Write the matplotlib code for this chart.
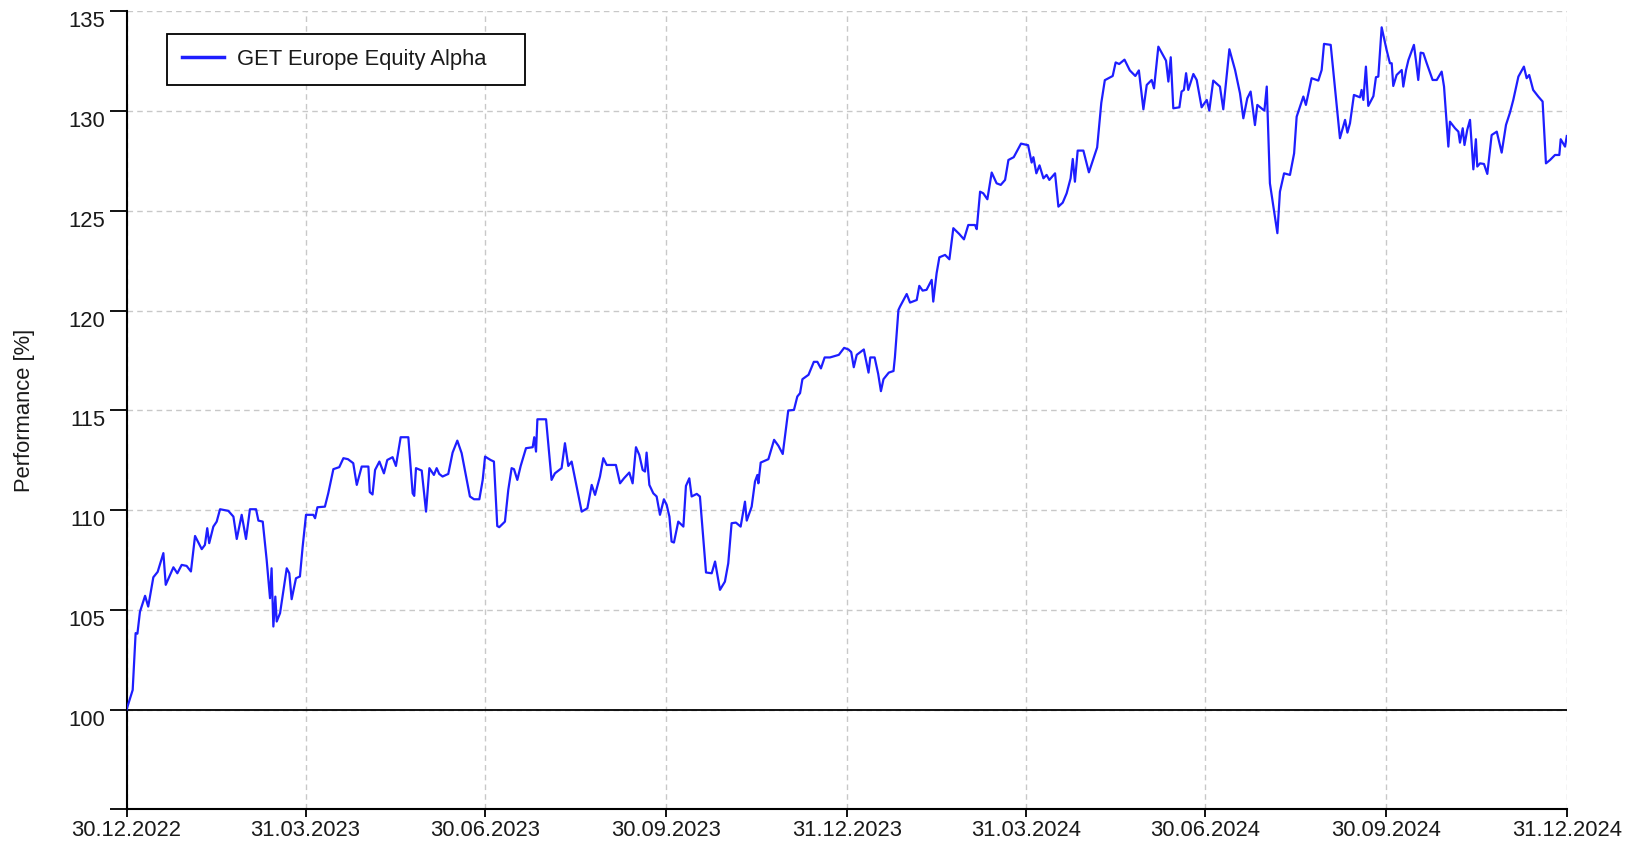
import matplotlib
matplotlib.use("Agg")
import matplotlib.pyplot as plt
import matplotlib.dates as mdates
import pandas as pd
import numpy as np

# ---------------- data ----------------
START = "2022-12-30"
END = "2024-12-31"
SERIES_NAME = "GET Europe Equity Alpha"
Y_LABEL = "Performance [%]"
TICK_DATES = ["2022-12-30", "2023-03-31", "2023-06-30", "2023-09-30", "2023-12-31",
              "2024-03-31", "2024-06-30", "2024-09-30", "2024-12-31"]
Y_TICKS = [95, 100, 105, 110, 115, 120, 125, 130, 135]
Y_TICK_LABELS = ["", "100", "105", "110", "115", "120", "125", "130", "135"]
BASELINE = 100

# days since START and performance values, first half (2023)
days_a = [0, 3.1, 4.6, 5.5, 6.8, 9.4, 11.0, 13.6, 15.8, 18.7, 19.9, 23.8, 25.8, 28.0, 30.5,
          32.7, 34.8, 38.2, 39.8, 41.0, 42.0, 44.1, 45.8, 47.5, 51.7, 54.3, 56.0, 58.5, 60.7,
          62.7, 65.8, 67.0, 69.2, 71.2, 72.9, 73.7, 74.6, 75.6, 76.3, 78.0, 81.4, 82.7, 83.9,
          86.1, 88.1, 89.5, 91.2, 94.9, 95.8, 97.0, 100.8, 102.5, 105.1, 108.1, 110.2, 112.5,
          115.2, 117.0, 119.5, 122.9, 123.6, 125.0, 126.3, 128.5, 130.8, 132.5, 135.2, 136.9,
          139.3, 143.2, 145.4, 146.2, 147.1, 150.0, 152.2, 153.9, 156.2, 157.6, 158.9, 160.6,
          163.5, 165.7, 168.1, 170.3, 174.5, 176.6, 179.3, 181.0, 182.2, 185.0, 186.7, 188.4,
          189.4, 192.3, 194.0, 195.7, 196.9, 198.6, 200.3, 203.0, 206.4, 207.2, 208.1, 208.8,
          213.2, 216.0, 217.7, 221.1, 222.8, 224.5, 226.2, 228.4, 231.3, 234.2, 236.4, 238.1,
          240.6, 242.3, 244.0, 248.7, 250.8, 252.8, 255.5, 257.2, 258.9, 260.6, 262.3, 263.5,
          264.3, 265.7, 267.7, 269.4, 271.1, 273.1, 274.5, 275.9, 277.0, 278.2, 280.4, 283.0,
          284.3, 286.0, 287.2, 289.8, 291.4, 294.5, 297.4, 299.1, 301.6, 304.1, 305.8, 307.5,
          309.7, 312.1, 314.3, 315.2, 317.7, 319.4, 320.6, 321.1, 322.3, 326.2, 329.1, 331.3,
          333.5, 336.3, 339.2, 340.9, 342.3, 343.5, 346.6, 349.3, 351.1, 352.9, 354.8, 357.5,
          362.0, 364.7]
perf_a = [100.0, 100.98, 103.83, 103.8, 104.9, 105.7, 105.16, 106.63, 106.9, 107.84, 106.25,
          107.13, 106.83, 107.25, 107.2, 106.92, 108.7, 108.04, 108.25, 109.09, 108.34, 109.17,
          109.42, 110.04, 109.96, 109.67, 108.55, 109.76, 108.55, 110.04, 110.04, 109.47,
          109.42, 107.5, 105.58, 107.08, 104.16, 105.66, 104.41, 104.83, 107.08, 106.83,
          105.53, 106.58, 106.67, 108.17, 109.76, 109.76, 109.59, 110.14, 110.17, 110.84,
          112.05, 112.15, 112.6, 112.55, 112.35, 111.26, 112.18, 112.18, 110.9, 110.78, 112.01,
          112.43, 111.84, 112.51, 112.65, 112.21, 113.65, 113.65, 110.84, 110.71, 112.1,
          111.98, 109.92, 112.1, 111.76, 112.1, 111.81, 111.68, 111.81, 112.88, 113.48, 112.85,
          110.68, 110.54, 110.54, 111.51, 112.68, 112.51, 112.43, 109.2, 109.14, 109.42,
          111.01, 112.1, 112.05, 111.51, 112.21, 113.1, 113.15, 113.65, 112.93, 114.55, 114.55,
          111.51, 111.84, 112.1, 113.35, 112.21, 112.43, 111.34, 109.92, 110.09, 111.26,
          110.76, 111.68, 112.6, 112.26, 112.26, 111.34, 111.59, 111.88, 111.34, 113.15,
          112.76, 112.01, 111.93, 112.88, 111.26, 110.84, 110.68, 109.76, 110.54, 110.26,
          109.67, 108.42, 108.37, 109.42, 109.17, 111.21, 111.59, 110.68, 110.81, 110.68,
          106.87, 106.83, 107.42, 106.0, 106.41, 107.33, 109.34, 109.37, 109.17, 110.42,
          109.47, 110.17, 111.43, 111.76, 111.34, 112.38, 112.55, 113.52, 113.22, 112.81,
          114.99, 115.02, 115.69, 115.86, 116.56, 116.78, 117.43, 117.43, 117.1, 117.65,
          117.65, 117.78, 118.13]

# second half (2024)
days_b = [366.9, 368.3, 369.6, 371.1, 374.7, 377.1, 378.0, 380.2, 382.0, 383.4, 384.7, 387.4,
          389.8, 390.5, 392.3, 393.1, 396.5, 398.2, 401.6, 402.9, 404.6, 406.6, 409.2, 410.0,
          411.7, 413.1, 416.0, 418.2, 420.2, 423.2, 425.6, 427.8, 431.2, 432.1, 433.8, 435.4,
          437.5, 439.7, 442.2, 444.3, 446.5, 448.2, 450.9, 454.6, 458.2, 460.0, 460.9, 462.4,
          464.0, 466.0, 467.6, 469.0, 471.9, 473.6, 475.8, 477.8, 479.8, 480.9, 482.0, 483.4,
          486.3, 489.1, 490.9, 493.3, 495.4, 497.2, 501.2, 502.7, 504.5, 507.2, 509.9, 512.7,
          514.5, 516.8, 518.5, 521.0, 522.2, 524.4, 528.3, 529.5, 530.7, 532.0, 535.1, 536.2,
          537.4, 538.5, 539.6, 542.2, 543.9, 546.4, 549.0, 550.3, 552.3, 555.7, 557.4, 560.5,
          563.4, 565.9, 567.6, 569.6, 571.3, 573.5, 574.7, 577.4, 578.3, 579.5, 581.1, 584.9,
          586.2, 588.3, 591.3, 593.4, 594.7, 598.1, 599.4, 602.3, 605.7, 607.4, 608.6, 612.0,
          616.7, 619.3, 620.5, 621.8, 623.8, 626.9, 627.7, 628.6, 629.9, 631.1, 633.7, 635.0,
          636.2, 637.9, 640.4, 642.1, 643.0, 643.8, 645.5, 648.1, 648.9, 650.3, 651.5, 654.3,
          655.3, 656.5, 657.7, 659.1, 660.8, 663.8, 665.9, 668.4, 669.6, 671.8, 672.6, 675.2,
          676.9, 677.7, 679.1, 680.0, 681.4, 682.8, 684.5, 685.8, 686.5, 687.9, 689.9, 691.6,
          693.8, 696.4, 698.9, 701.1, 703.1, 704.8, 707.4, 710.2, 711.6, 712.9, 714.9, 717.5,
          719.7, 721.4, 723.5, 726.0, 728.2, 728.9, 731.1, 732.0]
perf_b = [118.05, 117.92, 117.16, 117.78, 118.05, 116.89, 117.65, 117.65, 116.83, 115.96,
          116.56, 116.89, 116.97, 117.65, 120.03, 120.2, 120.83, 120.4, 120.53, 121.24, 121.0,
          121.04, 121.54, 120.45, 121.87, 122.67, 122.79, 122.57, 124.13, 123.84, 123.57,
          124.29, 124.29, 124.08, 125.96, 125.88, 125.58, 126.92, 126.38, 126.3, 126.55,
          127.55, 127.69, 128.37, 128.29, 127.42, 127.69, 126.88, 127.28, 126.63, 126.8,
          126.55, 126.88, 125.21, 125.41, 125.88, 126.63, 127.6, 126.46, 128.02, 128.02,
          126.93, 127.47, 128.18, 130.41, 131.55, 131.76, 132.44, 132.36, 132.58, 132.04,
          131.76, 132.04, 130.09, 131.31, 131.56, 131.14, 133.23, 132.53, 131.48, 132.7,
          130.14, 130.19, 130.98, 131.06, 131.9, 131.06, 131.86, 131.56, 130.19, 130.56,
          130.03, 131.53, 131.23, 130.09, 133.1, 132.06, 130.89, 129.64, 130.64, 130.98,
          129.3, 130.31, 130.09, 130.02, 131.23, 126.38, 123.88, 125.96, 126.88, 126.8,
          127.88, 129.72, 130.73, 130.31, 131.65, 131.53, 132.06, 133.37, 133.32, 128.64,
          129.56, 128.92, 129.39, 130.81, 130.69, 131.06, 130.56, 132.23, 130.26, 130.75,
          131.7, 131.73, 134.2, 133.07, 132.4, 132.4, 131.26, 131.81, 132.06, 131.23, 132.06,
          132.56, 133.32, 132.56, 131.56, 132.93, 132.9, 132.4, 131.56, 131.56, 131.98,
          131.23, 128.22, 129.47, 129.14, 128.97, 128.42, 129.14, 128.3, 129.06, 129.56,
          127.08, 128.59, 127.22, 127.38, 127.35, 126.85, 128.8, 128.97, 127.92, 129.31,
          129.92, 130.56, 131.73, 132.23, 131.65, 131.81, 131.06, 130.73, 130.48, 127.38,
          127.55, 127.8, 127.8, 128.59, 128.22, 128.75]

# ---------------- build series ----------------
start = pd.Timestamp(START)
dates = start + pd.to_timedelta(np.array(days_a + days_b), unit="D")
values = np.array(perf_a + perf_b)

# ---------------- plot ----------------
plt.rcParams["font.family"] = ["Liberation Sans", "DejaVu Sans"]
FS = 15.8
TXT = "#1a1a1a"

fig = plt.figure(figsize=(16.27, 8.48), dpi=100)
ax = fig.add_axes([0.0778, 0.0457, 0.9852 - 0.0778 - 0.0222, 0.9866 - 0.0457])

ax.plot(dates, values, color="#1e1eff", lw=1.6, label=SERIES_NAME, zorder=3)
ax.axhline(BASELINE, color="black", lw=1.3, zorder=2)

ax.set_xlim(pd.Timestamp(START), pd.Timestamp(END))
ax.set_ylim(Y_TICKS[0], Y_TICKS[-1])

ax.set_xticks([pd.Timestamp(d) for d in TICK_DATES])
ax.xaxis.set_major_formatter(mdates.DateFormatter("%d.%m.%Y"))
ax.set_yticks(Y_TICKS)
ax.set_yticklabels(Y_TICK_LABELS)
for lab in ax.get_yticklabels():
    lab.set_va("top")

ax.tick_params(axis="x", direction="out", length=6, width=1.3, pad=2,
               labelsize=FS, colors="black", labelcolor=TXT)
ax.tick_params(axis="y", direction="out", length=12.5, width=1.3, pad=3,
               labelsize=FS, colors="black", labelcolor=TXT)

ax.grid(True, color="#c8c8c8", lw=1.0, ls=(0, (4, 3)), zorder=0)
for s in ["top", "right"]:
    ax.spines[s].set_visible(False)
for s in ["left", "bottom"]:
    ax.spines[s].set_linewidth(1.5)
    ax.spines[s].set_color("black")

ax.set_ylabel(Y_LABEL, fontsize=FS, color=TXT)
ax.yaxis.set_label_coords(-0.0633, 0.5)

leg = ax.legend(loc="upper left", bbox_to_anchor=(0.028, 0.9717 - 0.065, 0.2486, 0.065),
                mode="expand", borderaxespad=0, fontsize=FS, frameon=True,
                fancybox=False, edgecolor="black", framealpha=1,
                handlelength=1.9, handletextpad=0.6, borderpad=0.68)
leg.get_frame().set_linewidth(1.3)
for t in leg.get_texts():
    t.set_color(TXT)
for h in leg.get_lines():
    h.set_linewidth(2.5)

fig.savefig("out.png", dpi=100)
